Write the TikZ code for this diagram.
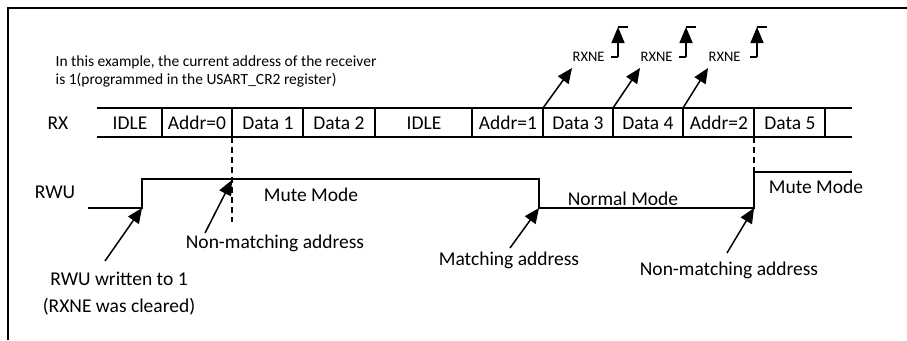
\documentclass[tikz,border=0pt]{standalone}
\usepackage{fontspec}
\setmainfont{Carlito}
\usetikzlibrary{arrows.meta}
\begin{document}
\begin{tikzpicture}[x=1pt,y=-1pt, line width=1.4pt,
  lbl/.style={font=\fontsize{19.5}{27}\selectfont, inner sep=0pt},
  small/.style={font=\fontsize{15.5}{18}\selectfont, inner sep=0pt},
  tiny/.style={font=\fontsize{14.5}{18}\selectfont, inner sep=0pt},
  arr/.style={-{Triangle[length=15pt,width=13pt]}, line width=1.5pt},
  uparr/.style={-{Triangle[length=16pt,width=13pt]}, line width=1.5pt},
]
\useasboundingbox (0,0) rectangle (907,340);
% frame
\draw[line width=2.2pt] (8,340) -- (8,8) -- (907,8);

% note
\node[small, anchor=west] (note1) at (55,62) {In this example, the current address of the receiver};
\node[small, anchor=west] (note2) at (55,80) {is 1(programmed in the USART\_CR2 register)};

% RX bus
\node[lbl] (rx) at (58,123) {RX};
\draw (97,108) -- (852,108);
\draw (97,137) -- (852,137);
\foreach \x in {162,232,303,375,472,543,613,683,754,825}
  \draw (\x,108) -- (\x,137);
\node[lbl] (c1) at (130,123) {IDLE};
\node[lbl] (c2) at (197,123) {Addr=0};
\node[lbl] (c3) at (268,123) {Data 1};
\node[lbl] (c4) at (339,123) {Data 2};
\node[lbl] (c5) at (424,123) {IDLE};
\node[lbl] (c6) at (508,123) {Addr=1};
\node[lbl] (c7) at (578,123) {Data 3};
\node[lbl] (c8) at (648,123) {Data 4};
\node[lbl] (c9) at (719,123) {Addr=2};
\node[lbl] (c10) at (790,123) {Data 5};

% dashed markers
\draw[line width=1.3pt, dash pattern=on 6pt off 4pt] (232,137) -- (232,222);
\draw[line width=1.3pt, dash pattern=on 6pt off 4pt] (754,137) -- (754,172);

% RWU waveform
\node[lbl] (rwu) at (55,192) {RWU};
\coordinate (w0) at (88,208);
\coordinate (w1) at (142,208);
\coordinate (w2) at (142,179);
\coordinate (w3) at (539,179);
\coordinate (w4) at (539,208);
\coordinate (w5) at (754,208);
\coordinate (w6) at (754,172);
\coordinate (w7) at (852,172);
\draw (w0) -- (w1) -- (w2) -- (w3) -- (w4) -- (w5) -- (w6) -- (w7);
\node[lbl] (mute1) at (311,195) {Mute Mode};
\node[lbl] (normal) at (623,199) {Normal Mode};
\node[lbl] (mute2) at (816,187) {Mute Mode};

% RXNE events
\foreach \i/\s/\t/\v in {1/543/572/618, 2/613/640/686, 3/683/708/757} {
  \coordinate (s\i) at (\s,108);
  \coordinate (t\i) at (\t,68);
  \draw[arr] (s\i) -- (t\i);
  \node[tiny, anchor=west] (rxne\i) at (\t,57) {RXNE};
  \coordinate (p\i a) at (\v-7,57);
  \coordinate (p\i b) at (\v,57);
  \coordinate (p\i c) at (\v,27);
  \coordinate (p\i d) at (\v+10,27);
  \draw (p\i a) -- (p\i b);
  \draw[uparr] (p\i b) -- (p\i c);
  \draw (p\i c) -- (p\i d);
}

% annotations
\node[lbl, align=center] (ann1) at (119,294) {RWU written to 1\\(RXNE was cleared)};
\coordinate (a1) at (105,261);
\draw[arr] (a1) -- (w1);
\node[lbl] (ann2) at (275,243) {Non-matching address};
\coordinate (a2) at (205,233);
\coordinate (t2) at (232,180);
\draw[arr] (a2) -- (t2);
\node[lbl] (ann3) at (509,260) {Matching address};
\coordinate (a3) at (510,248);
\draw[arr] (a3) -- (w4);
\node[lbl] (ann4) at (729,270) {Non-matching address};
\coordinate (a4) at (727,253);
\draw[arr] (a4) -- (w5);
\end{tikzpicture}
\end{document}
